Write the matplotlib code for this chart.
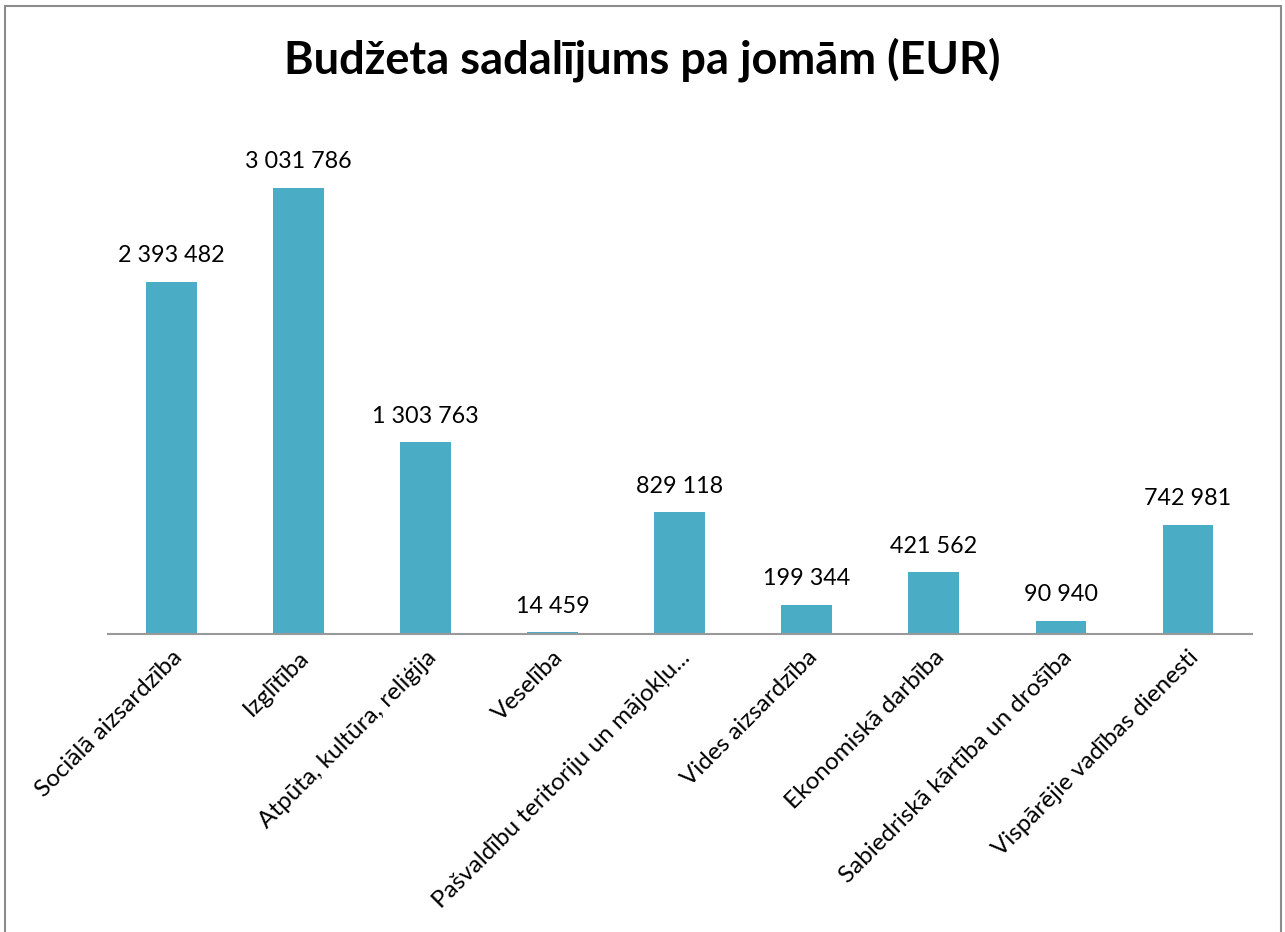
import matplotlib.pyplot as plt
from matplotlib.patches import Rectangle

# Budget by area (EUR)
categories = [
    "Sociālā aizsardzība",
    "Izglītība",
    "Atpūta, kultūra, reliģija",
    "Veselība",
    "Pašvaldību teritoriju un mājokļu...",
    "Vides aizsardzība",
    "Ekonomiskā darbība",
    "Sabiedriskā kārtība un drošība",
    "Vispārējie vadības dienesti",
]
values = [2393482, 3031786, 1303763, 14459, 829118, 199344, 421562, 90940, 742981]

plt.rcParams["font.family"] = ["Lato", "DejaVu Sans"]

fig = plt.figure(figsize=(12.85, 9.32), dpi=100)
ax = fig.add_axes([0.084, 0.3197, 0.89, 0.553])

x = range(len(categories))
bars = ax.bar(x, values, width=0.4, color="#4BACC6", zorder=2)

for b, v in zip(bars, values):
    label = f"{v:,}".replace(",", " ")
    ax.annotate(label, (b.get_x() + b.get_width() / 2, v), xytext=(0, 11),
                textcoords="offset points", ha="center", va="bottom", fontsize=16.8)

ax.set_xlim(-0.5, len(categories) - 0.5)
ax.set_ylim(0, 3500000)
ax.set_yticks([])
ax.set_xticks(list(x))
ax.set_xticklabels(categories, rotation=45, ha="right", rotation_mode="anchor", fontsize=17.5)
ax.tick_params(axis="x", length=0, pad=9)

for s in ["top", "right", "left"]:
    ax.spines[s].set_visible(False)
ax.spines["bottom"].set_color("#999999")
ax.spines["bottom"].set_linewidth(1.5)

fig.text(0.5, 0.936, "Budžeta sadalījums pa jomām (EUR)", ha="center", va="center",
         fontsize=32.5, fontweight="bold")

# outer frame of the chart area
fig.patches.append(Rectangle((5 / 1285, -0.05), 1276 / 1285, 0.05 + 926 / 932,
                             transform=fig.transFigure, fill=False,
                             edgecolor="#8c8c8c", linewidth=1.5))

fig.savefig("out.png", dpi=100)
